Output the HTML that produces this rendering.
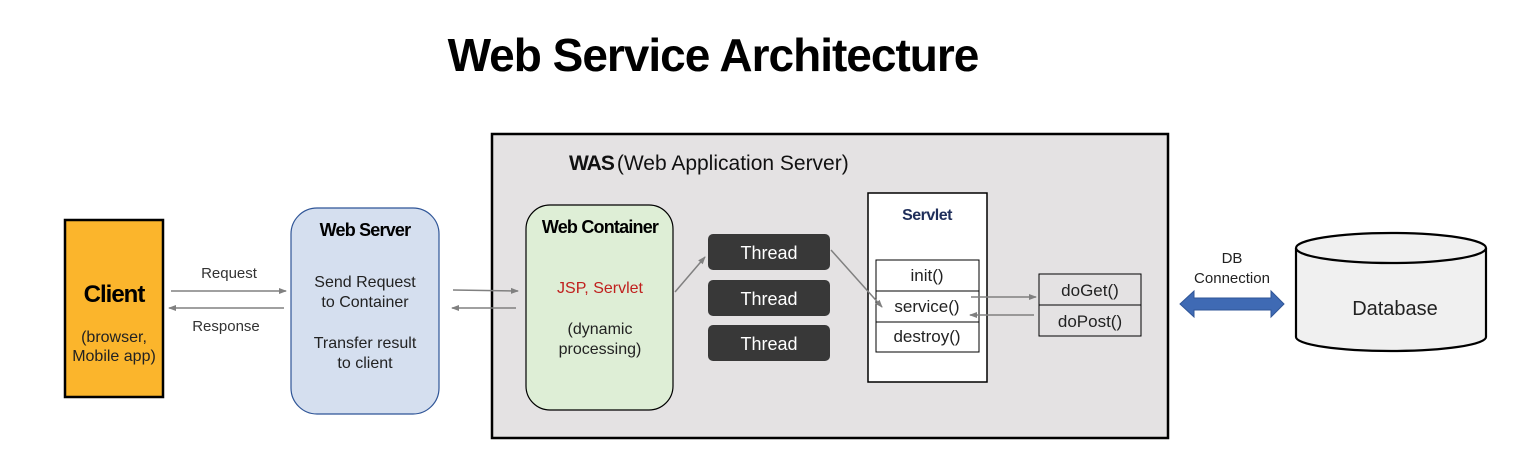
<!DOCTYPE html>
<html><head><meta charset="utf-8"><style>
html,body{margin:0;padding:0;background:#fff}
svg{display:block}
text{font-family:"Liberation Sans","NanumGothic",sans-serif}
</style></head><body>
<svg width="1528" height="474" viewBox="0 0 1528 474" xmlns="http://www.w3.org/2000/svg">
<defs>
<marker id="a" markerWidth="8" markerHeight="8" refX="7" refY="4" orient="auto" markerUnits="userSpaceOnUse"><path d="M0,1 L8,4 L0,7 z" fill="#808080"/></marker>
</defs>
<text x="713" y="71" font-size="46" font-weight="bold" text-anchor="middle" fill="#000" letter-spacing="-1">Web Service Architecture</text>

<!-- Client -->
<rect x="65" y="220" width="98" height="177" fill="#fbb52c" stroke="#000" stroke-width="2.5"/>
<text x="114" y="302" font-size="24" font-weight="bold" text-anchor="middle" letter-spacing="-1">Client</text>
<text x="114" y="342" font-size="16" text-anchor="middle" fill="#222">(browser,</text>
<text x="114" y="361" font-size="16" text-anchor="middle" fill="#222">Mobile app)</text>

<text x="229" y="278" font-size="15" text-anchor="middle" fill="#333">Request</text>
<line x1="171" y1="291" x2="286" y2="291" stroke="#808080" stroke-width="1.5" marker-end="url(#a)"/>
<line x1="284" y1="308" x2="169" y2="308" stroke="#808080" stroke-width="1.5" marker-end="url(#a)"/>
<text x="226" y="331" font-size="15" text-anchor="middle" fill="#333">Response</text>

<!-- Web Server -->
<rect x="291" y="208" width="148" height="206" rx="26" fill="#d5dfef" stroke="#2f5597" stroke-width="1.2"/>
<text x="365" y="236" font-size="18" font-weight="bold" text-anchor="middle" letter-spacing="-0.8">Web Server</text>
<text x="365" y="287" font-size="16" text-anchor="middle" fill="#222">Send Request</text>
<text x="365" y="307" font-size="16" text-anchor="middle" fill="#222">to Container</text>
<text x="365" y="348" font-size="16" text-anchor="middle" fill="#222">Transfer result</text>
<text x="365" y="368" font-size="16" text-anchor="middle" fill="#222">to client</text>

<!-- WAS -->
<rect x="492" y="134" width="676" height="304" fill="#e4e2e3" stroke="#000" stroke-width="2.5"/>
<text x="569" y="170" font-size="21" fill="#111"><tspan font-weight="bold" letter-spacing="-1">WAS</tspan><tspan dx="3">(Web Application Server)</tspan></text>

<line x1="453" y1="290" x2="518" y2="291" stroke="#808080" stroke-width="1.5" marker-end="url(#a)"/>
<line x1="516" y1="308" x2="452" y2="308" stroke="#808080" stroke-width="1.5" marker-end="url(#a)"/>

<!-- Web Container -->
<rect x="526" y="205" width="147" height="205" rx="24" fill="#deeed6" stroke="#000" stroke-width="1.2"/>
<text x="600" y="233" font-size="18" font-weight="bold" text-anchor="middle" letter-spacing="-0.8">Web Container</text>
<text x="600" y="293" font-size="16" text-anchor="middle" fill="#c0201e">JSP, Servlet</text>
<text x="600" y="334" font-size="16" text-anchor="middle" fill="#222">(dynamic</text>
<text x="600" y="354" font-size="16" text-anchor="middle" fill="#222">processing)</text>

<line x1="675" y1="292" x2="705" y2="257" stroke="#808080" stroke-width="1.5" marker-end="url(#a)"/>

<!-- Threads -->
<rect x="708" y="234" width="122" height="36" rx="5" fill="#383838"/>
<text x="769" y="259" font-size="18" text-anchor="middle" fill="#fff">Thread</text>
<rect x="708" y="280" width="122" height="36" rx="5" fill="#383838"/>
<text x="769" y="305" font-size="18" text-anchor="middle" fill="#fff">Thread</text>
<rect x="708" y="325" width="122" height="36" rx="5" fill="#383838"/>
<text x="769" y="350" font-size="18" text-anchor="middle" fill="#fff">Thread</text>

<!-- Servlet -->
<rect x="868" y="193" width="119" height="189" fill="#fff" stroke="#000" stroke-width="1.5"/>
<text x="927" y="220" font-size="16" font-weight="bold" text-anchor="middle" fill="#1f2e5a" letter-spacing="-0.5">Servlet</text>
<rect x="876" y="260" width="103" height="31" fill="#fff" stroke="#000" stroke-width="1"/>
<rect x="876" y="291" width="103" height="31" fill="#fff" stroke="#000" stroke-width="1"/>
<rect x="876" y="322" width="103" height="30" fill="#fff" stroke="#000" stroke-width="1"/>
<text x="927" y="281" font-size="17" text-anchor="middle" fill="#222">init()</text>
<text x="927" y="312" font-size="17" text-anchor="middle" fill="#222">service()</text>
<text x="927" y="342" font-size="17" text-anchor="middle" fill="#222">destroy()</text>
<line x1="831" y1="250" x2="882" y2="307" stroke="#808080" stroke-width="1.5" marker-end="url(#a)"/>

<line x1="971" y1="297" x2="1036" y2="297" stroke="#808080" stroke-width="1.5" marker-end="url(#a)"/>
<line x1="1034" y1="315" x2="970" y2="315" stroke="#808080" stroke-width="1.5" marker-end="url(#a)"/>

<rect x="1039" y="274" width="102" height="31" fill="#e4e2e3" stroke="#000" stroke-width="1"/>
<rect x="1039" y="305" width="102" height="31" fill="#e4e2e3" stroke="#000" stroke-width="1"/>
<text x="1090" y="296" font-size="17" text-anchor="middle" fill="#222">doGet()</text>
<text x="1090" y="327" font-size="17" text-anchor="middle" fill="#222">doPost()</text>

<!-- DB connection -->
<text x="1232" y="263" font-size="15" text-anchor="middle" fill="#222">DB</text>
<text x="1232" y="283" font-size="15" text-anchor="middle" fill="#222">Connection</text>
<path d="M1180,304 L1194,291 L1194,298 L1271,298 L1271,291 L1284,304 L1271,317 L1271,310 L1194,310 L1194,317 z" fill="#3f6ab4" stroke="#2f5597" stroke-width="1"/>

<!-- Database -->
<path d="M1296,248 L1296,337 A95,14 0 0 0 1486,337 L1486,248" fill="#f0f0f0" stroke="#000" stroke-width="2.2"/>
<ellipse cx="1391" cy="248" rx="95" ry="15" fill="#f0f0f0" stroke="#000" stroke-width="2.2"/>
<text x="1395" y="315" font-size="20" text-anchor="middle" fill="#222">Database</text>
</svg>
</body></html>
